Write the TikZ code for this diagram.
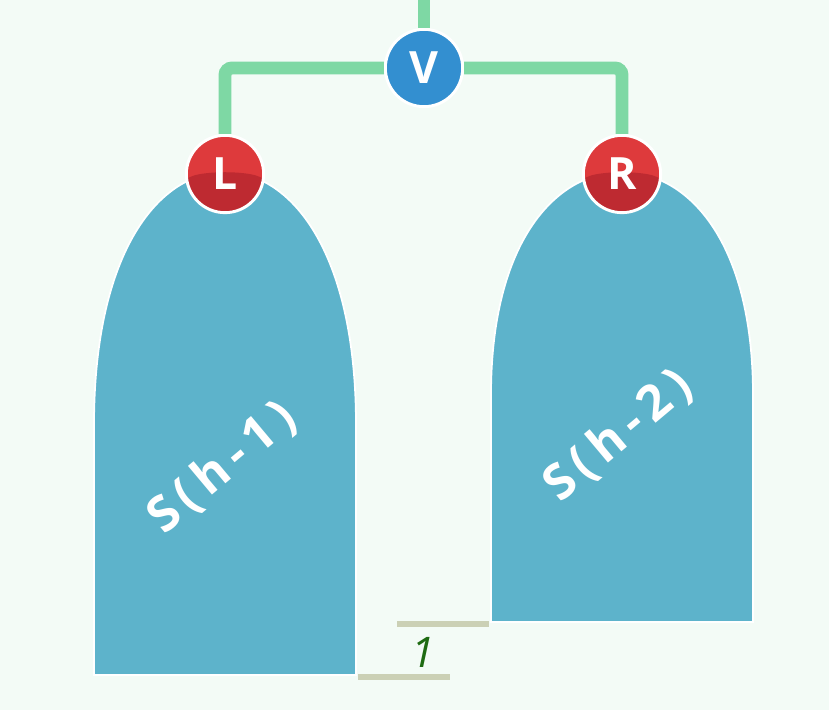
\documentclass[tikz,border=0pt]{standalone}
\usepackage{fontspec}
\setmainfont{Open Sans}
\usetikzlibrary{positioning}
\definecolor{bgmint}{HTML}{F3FBF6}
\definecolor{edgegreen}{HTML}{7ED8A4}
\definecolor{treeblue}{HTML}{5DB3CB}
\definecolor{vblue}{HTML}{338FD0}
\definecolor{lred}{HTML}{DE3A3C}
\definecolor{dred}{HTML}{BE2A31}
\definecolor{bargray}{HTML}{CBD0B5}
\definecolor{onegreen}{HTML}{1E6B12}
\tikzset{
  vertex/.style={circle, draw=white, line width=2.5pt, minimum size=66pt, inner sep=0pt,
    text=white, font=\bfseries\fontsize{38}{40}\selectfont},
  redvertex/.style={vertex, fill=lred, path picture={\fill[dred] ([yshift=-6pt]path picture bounding box.west)
    .. controls +(0,10pt) and +(0,10pt) .. ([yshift=-6pt]path picture bounding box.east)
    -- (path picture bounding box.south east) -- (path picture bounding box.south west) -- cycle;}},
  edge/.style={edgegreen, line width=11pt, rounded corners=6pt},
  subtree/.style={fill=treeblue, draw=white, line width=1.5pt},
  treelabel/.style={text=white, font=\bfseries\fontsize{42}{44}\selectfont\addfontfeature{LetterSpace=16}, rotate=40},
  bar/.style={bargray, line width=5pt},
}
\begin{document}
\begin{tikzpicture}[x=0.03cm, y=-0.03cm]
\fill[bgmint] (0,0) rectangle (829,710);
\useasboundingbox (0,0) rectangle (829,710);
% subtrees
\draw[subtree] (94,675) -- (94,425) .. controls (94,250) and (160,172) .. (225,172)
  .. controls (290,172) and (356,250) .. (356,425) -- (356,675) -- cycle;
\draw[subtree] (491,622) -- (491,395) .. controls (491,240) and (557,172) .. (622,172)
  .. controls (687,172) and (753,240) .. (753,395) -- (753,622) -- cycle;
\node[treelabel] (tl) at (222,468) {S(h-1)};
\node[treelabel] (tr) at (618,436) {S(h-2)};
% height bars
\coordinate (b1a) at (397,624); \coordinate (b1b) at (489,624);
\coordinate (b2a) at (358,677); \coordinate (b2b) at (450,677);
\draw[bar] (b1a) -- (b1b);
\draw[bar] (b2a) -- (b2b);
\node[text=onegreen, font=\itshape\fontsize{36}{38}\selectfont] (one) at (423,652) {1};
% vertices
\coordinate (top) at (424,0);
\node[vertex, fill=vblue] (v) at (424,68) {V};
\node[redvertex] (l) at (225,174) {};
\node[redvertex] (r) at (622,174) {};
\node[text=white, font=\bfseries\fontsize{38}{40}\selectfont] at (l) {L};
\node[text=white, font=\bfseries\fontsize{38}{40}\selectfont] at (r) {R};
% edges
\draw[edge] (top) -- (v.north);
\draw[edge] (v.west) -| (l.north);
\draw[edge] (v.east) -| (r.north);
\end{tikzpicture}
\end{document}
